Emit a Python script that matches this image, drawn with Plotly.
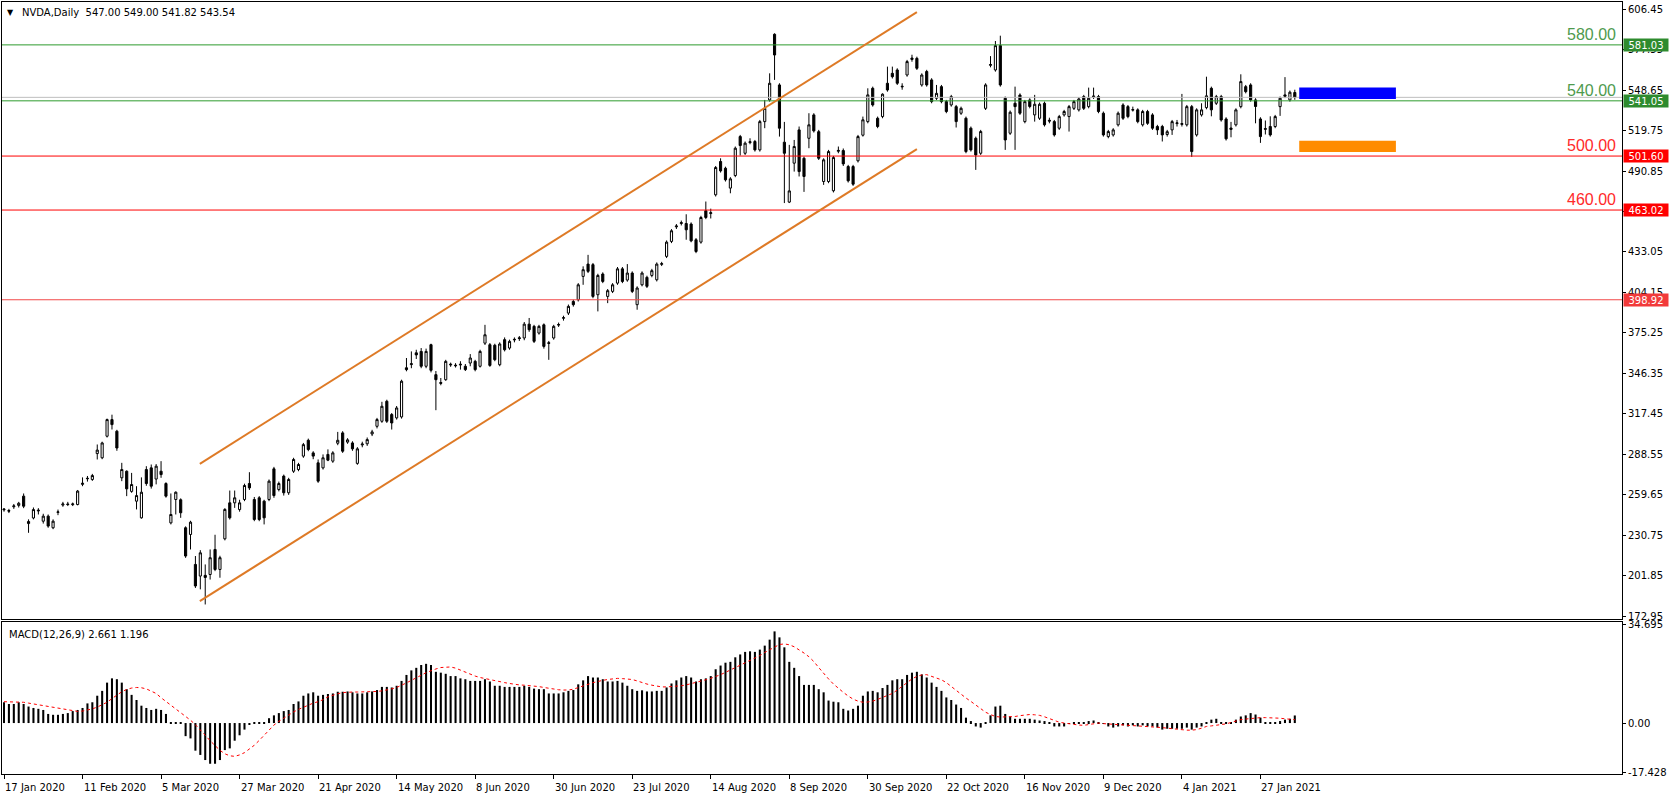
import plotly.graph_objects as go

W, H = 1671, 800

# ---------------- data ----------------
tick_labels = ["17 Jan 2020", "11 Feb 2020", "5 Mar 2020", "27 Mar 2020", "21 Apr 2020",
               "14 May 2020", "8 Jun 2020", "30 Jun 2020", "23 Jul 2020", "14 Aug 2020",
               "8 Sep 2020", "30 Sep 2020", "22 Oct 2020", "16 Nov 2020", "9 Dec 2020",
               "4 Jan 2021", "27 Jan 2021"]
tick_bars = [0, 16, 32, 48, 64, 80, 96, 112, 128, 144, 160, 176, 192, 208, 224, 240, 256]

opens = [
    248.8, 248.3, 251.0, 252.0, 258.6, 239.0, 243.0, 248.0, 240.7, 244.3,
    236.0, 247.0, 252.2, 253.0, 252.5, 252.6, 267.0, 271.0, 270.5, 289.0,
    286.0, 301.4, 313.3, 305.0, 271.7, 276.4, 262.0, 255.0, 243.1, 277.6,
    278.8, 270.8, 276.4, 267.6, 239.5, 256.2, 256.0, 236.0, 231.2, 209.8,
    201.5, 202.0, 202.6, 220.5, 206.2, 228.1, 253.8, 253.8, 249.0, 256.2,
    267.6, 256.2, 257.4, 255.0, 256.2, 278.1, 263.3, 272.9, 261.0, 276.4,
    277.6, 287.2, 298.5, 289.5, 282.4, 278.8, 288.4, 283.6, 296.4, 303.8,
    297.2, 296.6, 282.0, 295.2, 296.0, 303.0, 308.5, 312.1, 326.4, 316.9,
    314.5, 315.2, 350.3, 352.6, 361.0, 362.0, 351.4, 366.8, 345.4, 339.8,
    341.8, 352.3, 352.2, 352.3, 351.4, 353.7, 354.9, 351.4, 367.9, 366.8,
    366.4, 352.5, 370.4, 364.4, 370.2, 371.8, 371.6, 381.5, 379.9, 375.1,
    381.0, 368.2, 371.6, 380.8, 385.7, 389.4, 397.7, 398.9, 415.6, 424.4,
    424.0, 402.5, 417.3, 401.3, 404.9, 410.8, 421.0, 413.0, 418.0, 395.4,
    409.6, 414.9, 416.3, 413.2, 424.2, 429.9, 440.6, 451.0, 453.4, 453.4,
    453.0, 441.8, 440.1, 462.5, 460.5, 473.9, 497.7, 492.9, 478.7, 487.7,
    515.5, 503.6, 511.2, 512.0, 506.0, 526.2, 541.7, 588.6, 552.4, 511.5,
    468.7, 496.5, 520.3, 500.0, 514.3, 531.0, 519.0, 483.4, 483.4, 476.8,
    505.0, 505.5, 494.1, 494.1, 498.2, 516.5, 526.2, 550.0, 528.6, 529.8,
    553.6, 560.7, 563.1, 551.0, 559.5, 570.6, 571.4, 552.4, 562.0, 556.0,
    542.9, 551.2, 540.5, 538.1, 536.9, 532.2, 528.6, 521.5, 514.3, 503.6,
    535.7, 566.4, 563.1, 580.5, 542.9, 517.9, 539.3, 545.2, 526.2, 541.7,
    531.0, 528.6, 539.3, 527.2, 526.2, 521.5, 531.0, 529.8, 535.7, 534.6,
    544.1, 536.9, 543.8, 544.1, 532.2, 515.5, 516.7, 523.9, 538.1, 536.9,
    534.4, 534.6, 523.9, 533.4, 531.0, 522.7, 522.7, 517.0, 520.3, 524.8,
    524.2, 523.9, 536.9, 516.7, 531.0, 536.2, 550.0, 539.3, 544.1, 528.1,
    520.6, 523.9, 536.9, 551.2, 552.4, 541.7, 528.1, 521.2, 522.7, 522.7,
    536.9, 545.3, 541.7, 547.00]

highs = [
    250.0, 249.5, 253.0, 254.5, 260.5, 242.0, 250.5, 250.0, 246.0, 245.5,
    242.0, 249.0, 254.5, 254.5, 254.0, 263.0, 272.0, 273.0, 274.5, 295.5,
    297.5, 314.0, 316.8, 306.0, 282.4, 277.0, 275.2, 265.7, 272.0, 280.0,
    281.2, 281.5, 283.6, 268.5, 260.5, 262.0, 257.0, 237.0, 241.0, 215.8,
    220.0, 209.8, 220.5, 231.0, 216.0, 250.0, 262.6, 262.6, 256.0, 267.5,
    275.7, 258.0, 258.6, 256.0, 270.5, 279.5, 269.0, 274.0, 271.7, 286.0,
    282.4, 296.6, 299.7, 290.7, 284.8, 288.4, 292.0, 290.7, 304.5, 305.0,
    300.0, 297.8, 293.6, 297.5, 300.5, 306.0, 314.5, 326.0, 327.5, 318.0,
    323.0, 341.8, 357.3, 362.0, 363.2, 364.4, 364.0, 367.5, 348.0, 343.0,
    356.0, 354.0, 353.6, 355.0, 353.0, 360.1, 356.0, 363.2, 381.0, 368.0,
    367.5, 368.5, 372.0, 370.4, 372.0, 373.0, 383.0, 385.9, 381.0, 381.0,
    382.0, 369.5, 381.0, 382.6, 387.5, 395.5, 398.9, 410.8, 422.8, 431.0,
    425.2, 417.5, 418.5, 406.6, 410.8, 422.3, 422.3, 424.4, 419.2, 408.5,
    419.2, 416.1, 421.0, 425.6, 426.0, 441.3, 449.4, 453.0, 455.5, 460.0,
    454.2, 443.0, 458.9, 469.1, 464.0, 494.5, 500.0, 494.0, 486.5, 508.4,
    516.7, 512.0, 514.3, 513.1, 527.4, 541.7, 560.7, 589.3, 553.6, 526.0,
    509.6, 513.1, 522.7, 501.2, 532.2, 532.2, 520.3, 500.0, 506.0, 501.7,
    508.4, 507.0, 495.3, 495.3, 516.7, 529.8, 550.0, 551.2, 529.8, 546.4,
    565.5, 565.5, 564.3, 553.6, 570.3, 574.0, 572.6, 560.7, 563.2, 557.2,
    552.4, 552.4, 541.7, 545.3, 538.1, 536.9, 529.8, 522.7, 515.5, 520.3,
    553.6, 573.0, 583.8, 587.6, 544.1, 534.1, 551.2, 546.4, 541.7, 542.9,
    545.3, 539.8, 540.5, 529.0, 527.4, 531.0, 534.6, 538.1, 541.7, 543.6,
    545.3, 550.5, 550.5, 545.3, 533.4, 520.3, 521.5, 533.4, 539.3, 538.1,
    536.9, 535.7, 534.6, 534.6, 532.2, 523.9, 523.9, 520.3, 527.4, 527.4,
    546.0, 538.1, 538.1, 535.7, 539.3, 558.3, 551.2, 545.3, 545.3, 529.3,
    526.0, 535.7, 560.0, 552.4, 553.6, 542.9, 529.3, 527.0, 530.0, 531.0,
    544.1, 558.0, 548.4, 549.00]

lows = [
    247.5, 246.5, 249.5, 250.5, 250.0, 232.4, 242.0, 245.5, 239.0, 236.0,
    235.0, 245.0, 251.0, 251.5, 251.5, 252.0, 265.7, 269.0, 269.5, 284.8,
    285.0, 300.5, 306.2, 291.0, 269.3, 258.6, 261.0, 249.1, 242.5, 266.0,
    264.0, 267.0, 271.7, 257.5, 238.4, 245.5, 243.1, 214.5, 220.5, 193.0,
    192.0, 181.2, 199.0, 205.0, 200.3, 227.0, 241.9, 250.2, 247.5, 255.0,
    263.0, 240.7, 240.7, 238.4, 255.0, 257.4, 262.0, 259.0, 259.5, 275.2,
    276.4, 286.0, 290.7, 285.0, 268.1, 277.6, 283.6, 282.4, 295.0, 289.5,
    296.0, 291.0, 281.0, 293.5, 294.5, 301.5, 307.0, 311.0, 310.9, 306.2,
    313.3, 314.0, 347.8, 350.0, 356.6, 350.0, 350.0, 347.0, 320.0, 337.8,
    341.0, 351.0, 350.5, 349.0, 348.0, 351.4, 347.8, 350.5, 366.6, 351.0,
    355.0, 351.4, 362.0, 363.2, 368.5, 369.5, 370.0, 376.0, 368.0, 374.0,
    364.0, 356.0, 370.4, 379.5, 384.0, 388.0, 394.0, 397.7, 409.6, 418.0,
    400.0, 390.6, 410.8, 396.5, 403.7, 409.6, 410.8, 411.8, 403.7, 391.8,
    408.5, 407.3, 415.0, 412.0, 423.0, 428.7, 439.4, 449.5, 452.0, 441.8,
    440.0, 432.2, 439.0, 456.5, 457.0, 472.7, 489.8, 483.4, 475.0, 486.5,
    502.0, 502.4, 510.0, 504.8, 504.8, 521.5, 540.5, 556.0, 515.5, 468.0,
    468.0, 490.5, 487.0, 476.0, 507.2, 518.4, 498.8, 481.0, 482.2, 475.6,
    503.6, 494.5, 482.7, 480.3, 497.0, 515.5, 525.0, 536.9, 521.5, 528.6,
    547.6, 557.0, 552.4, 549.0, 558.3, 569.0, 563.1, 551.2, 551.2, 539.3,
    541.7, 539.3, 532.2, 536.9, 522.0, 531.0, 503.6, 504.8, 491.7, 502.4,
    534.5, 565.0, 561.9, 551.2, 506.0, 516.7, 506.0, 531.0, 525.0, 535.7,
    526.2, 527.4, 522.7, 525.0, 515.5, 520.3, 529.8, 519.1, 534.5, 533.4,
    534.5, 535.7, 542.4, 532.2, 515.5, 514.3, 515.5, 522.7, 527.4, 528.6,
    533.4, 525.0, 522.7, 523.9, 520.3, 516.7, 512.0, 515.5, 516.7, 522.7,
    522.7, 522.7, 501.0, 515.5, 529.8, 535.0, 530.0, 538.1, 526.2, 512.7,
    515.0, 522.7, 535.7, 546.4, 540.5, 525.0, 511.0, 517.0, 515.5, 521.5,
    530.3, 543.0, 540.5, 541.82]

closes = [
    249.3, 247.9, 251.6, 253.5, 251.4, 240.5, 249.0, 248.5, 244.3, 237.2,
    240.7, 247.3, 253.0, 252.6, 253.0, 262.2, 267.8, 271.3, 273.3, 291.5,
    296.6, 313.3, 309.7, 293.0, 277.6, 263.8, 266.9, 259.0, 261.4, 267.6,
    265.7, 280.0, 274.0, 258.6, 245.5, 261.4, 246.7, 215.8, 240.0, 194.4,
    218.1, 200.5, 214.6, 206.2, 214.6, 249.1, 243.1, 257.4, 253.8, 266.2,
    264.5, 241.9, 241.9, 243.1, 269.3, 259.0, 267.6, 261.0, 270.5, 284.8,
    281.2, 295.4, 291.9, 287.2, 269.3, 286.0, 284.3, 289.5, 298.5, 290.7,
    298.8, 292.4, 292.4, 295.8, 299.0, 304.5, 313.3, 322.8, 312.1, 310.9,
    321.6, 340.7, 349.0, 353.2, 359.5, 351.4, 362.0, 348.5, 341.8, 339.2,
    354.9, 352.8, 351.8, 352.8, 349.0, 357.3, 349.0, 362.0, 373.9, 352.0,
    356.1, 367.3, 363.2, 369.2, 370.6, 371.2, 381.5, 377.5, 369.2, 379.9,
    365.6, 367.8, 379.9, 381.2, 386.1, 394.2, 395.4, 409.6, 420.4, 419.2,
    401.3, 416.3, 412.0, 405.4, 409.6, 421.0, 412.0, 418.0, 404.9, 407.3,
    418.0, 408.5, 419.7, 424.4, 424.7, 440.1, 448.2, 451.6, 454.0, 448.9,
    441.0, 433.4, 457.7, 457.7, 461.1, 493.4, 491.0, 484.6, 485.3, 507.2,
    509.1, 510.8, 511.8, 506.0, 526.2, 535.7, 553.6, 573.8, 521.5, 503.6,
    476.7, 508.4, 490.5, 487.0, 523.9, 519.6, 500.0, 498.9, 504.8, 500.5,
    505.6, 496.0, 483.9, 481.5, 515.5, 527.5, 545.3, 538.1, 522.7, 545.8,
    548.8, 558.3, 553.6, 551.4, 569.1, 571.6, 564.3, 559.5, 552.4, 540.5,
    546.4, 540.5, 533.4, 544.1, 526.2, 535.7, 504.8, 506.0, 502.4, 519.1,
    552.4, 567.0, 580.5, 552.4, 513.1, 532.9, 536.9, 532.2, 540.5, 537.0,
    538.6, 538.6, 523.9, 526.6, 516.7, 529.8, 533.4, 536.9, 540.5, 542.4,
    535.7, 542.9, 544.4, 533.4, 516.7, 519.1, 520.3, 532.2, 528.6, 529.8,
    534.8, 526.2, 533.4, 525.0, 521.5, 520.3, 516.7, 519.0, 526.2, 525.3,
    524.8, 536.9, 504.8, 534.6, 534.6, 544.6, 534.6, 544.1, 527.4, 513.9,
    521.6, 534.6, 554.8, 547.6, 541.7, 537.0, 515.5, 520.8, 516.7, 529.8,
    542.9, 544.3, 547.2, 543.54]

macd_main = [
    7.3, 6.7, 6.7, 7.3, 6.7, 5.8, 5.3, 5.0, 4.6, 3.2,
    2.9, 2.9, 3.2, 3.5, 4.2, 4.6, 5.3, 6.9, 7.3, 9.6,
    11.3, 14.2, 15.7, 15.4, 14.2, 11.9, 9.9, 8.1, 6.1, 5.3,
    4.6, 5.0, 4.6, 3.2, 0.3, 0.3, 0.1, -4.6, -5.4, -9.7,
    -11.2, -13.0, -14.3, -14.3, -13.0, -9.5, -8.9, -6.2, -4.3, -2.3,
    -0.5, 0.2, 0.2, 0.2, 1.7, 2.7, 3.5, 4.2, 4.6, 6.7,
    7.6, 9.6, 10.4, 10.8, 9.6, 9.9, 10.2, 10.4, 11.0, 11.0,
    11.1, 10.8, 10.4, 10.4, 10.8, 11.1, 11.6, 12.7, 12.7, 12.5,
    13.1, 14.8, 16.9, 18.5, 19.4, 20.4, 20.8, 20.4, 18.0, 17.7,
    17.3, 16.5, 16.5, 15.7, 15.4, 14.8, 14.8, 14.8, 15.4, 14.6,
    13.1, 13.1, 12.7, 12.7, 12.7, 12.7, 13.1, 12.7, 12.1, 11.9,
    11.9, 10.4, 10.4, 10.4, 10.8, 11.3, 11.6, 13.6, 15.0, 16.5,
    16.0, 16.0, 15.4, 14.6, 14.6, 14.8, 14.2, 13.1, 11.9, 11.3,
    11.5, 11.1, 11.1, 11.3, 11.3, 12.5, 13.9, 15.0, 16.0, 16.5,
    16.0, 14.6, 15.4, 15.7, 16.5, 18.9, 20.2, 21.2, 21.5, 23.1,
    24.1, 25.0, 25.2, 25.0, 25.8, 27.2, 29.3, 32.2, 30.1, 26.6,
    21.5, 19.4, 16.5, 13.4, 13.4, 13.4, 11.9, 10.8, 7.9, 7.5,
    7.3, 5.0, 4.4, 5.0, 6.1, 9.6, 11.1, 11.3, 10.8, 12.3,
    13.4, 15.0, 15.4, 15.4, 16.9, 17.7, 18.0, 17.1, 16.0, 14.2,
    12.7, 11.3, 9.0, 8.1, 6.5, 5.3, 1.9, 0.7, -1.2, -1.6,
    0.2, 2.7, 5.8, 6.1, 3.2, 2.3, 1.5, 1.5, 1.5, 1.5,
    1.2, 0.9, 0.7, 0.3, -1.2, -1.2, -1.2, -0.2, 0.1, 0.3,
    0.1, 0.7, 0.9, 0.1, -0.2, -1.2, -1.6, -1.2, -0.8, -1.2,
    -0.8, -1.2, -0.8, -1.2, -1.2, -1.6, -2.3, -2.0, -2.0, -2.0,
    -2.0, -1.6, -2.3, -1.6, -1.2, 0.1, 1.2, 1.5, 0.3, 0.1,
    0.3, 1.2, 2.3, 2.7, 3.5, 3.0, 1.9, 0.3, 0.3, 0.3,
    0.7, 1.2, 1.5, 2.661]

macd_signal = [
    7.5, 7.5, 7.5, 7.4, 7.3, 7.0, 6.7, 6.4, 6.1, 5.8,
    5.5, 5.1, 4.8, 4.5, 4.2, 4.1, 4.2, 4.5, 5.0, 5.6,
    6.4, 7.3, 8.6, 9.9, 11.0, 11.8, 12.3, 12.5, 12.4, 12.0,
    11.3, 10.4, 8.9, 7.6, 6.2, 4.8, 3.4, 2.2, 1.0, -0.6,
    -2.3, -4.3, -6.2, -8.0, -9.6, -10.8, -11.5, -11.7, -11.2, -10.4,
    -9.2, -7.8, -6.1, -4.2, -2.3, -0.7, 0.6, 1.8, 2.9, 3.9,
    4.8, 5.6, 6.4, 7.0, 7.5, 8.2, 9.2, 9.8, 10.3, 10.7,
    10.9, 10.9, 10.9, 10.9, 11.0, 11.0, 11.1, 11.3, 11.6, 12.0,
    12.5, 13.2, 14.1, 15.0, 15.8, 16.8, 17.7, 18.4, 19.0, 19.5,
    19.7, 19.7, 19.3, 18.6, 17.8, 17.2, 16.5, 16.0, 15.6, 15.2,
    14.8, 14.5, 14.2, 13.9, 13.6, 13.4, 13.3, 13.2, 13.1, 12.8,
    12.5, 12.2, 11.9, 11.7, 11.6, 11.6, 11.9, 12.4, 13.0, 13.6,
    14.2, 14.7, 15.0, 15.3, 15.6, 15.7, 15.6, 15.4, 15.3, 14.8,
    14.2, 13.7, 13.3, 12.9, 12.7, 12.7, 12.8, 12.9, 13.1, 13.4,
    13.8, 14.2, 14.7, 15.2, 15.7, 16.3, 17.0, 17.8, 18.6, 19.6,
    20.4, 21.2, 22.0, 22.9, 23.7, 24.8, 25.8, 26.8, 27.6, 27.8,
    27.5, 26.8, 25.8, 24.6, 23.3, 21.6, 19.5, 17.4, 15.5, 13.7,
    12.1, 10.8, 9.5, 8.4, 7.7, 7.3, 7.4, 7.7, 8.3, 9.0,
    9.7, 10.4, 11.6, 13.0, 14.4, 15.5, 16.4, 16.9, 17.0, 16.4,
    15.8, 15.2, 14.2, 12.8, 11.4, 10.0, 8.8, 7.6, 6.3, 5.0,
    3.8, 3.0, 2.3, 2.1, 2.1, 2.1, 2.3, 2.6, 2.9, 3.0,
    2.9, 2.7, 2.2, 1.5, 0.8, 0.3, 0.0, -0.3, -0.5, -0.7,
    -0.8, -0.6, -0.3, 0.0, -0.2, -0.3, -0.5, -0.6, -0.7, -0.8,
    -0.8, -0.9, -1.0, -1.2, -1.3, -1.5, -1.6, -1.8, -2.0, -2.3,
    -2.5, -2.5, -2.5, -2.3, -1.8, -1.2, -1.0, -0.8, -0.6, -0.3,
    0.2, 0.7, 1.2, 1.4, 1.6, 1.8, 1.9, 1.9, 1.9, 1.9,
    1.7, 1.5, 1.3, 1.196]

price_ticks = [606.45, 577.55, 548.65, 519.75, 490.85, 461.95, 433.05, 404.15,
               375.25, 346.35, 317.45, 288.55, 259.65, 230.75, 201.85, 172.95]
macd_ticks = [34.695, 0.0, -17.428]
macd_tick_text = ["34.695", "0.00", "-17.428"]

# horizontal levels: price, line colour, box colour
level_prices = [581.03, 541.05, 501.60, 463.02, 398.92]
level_colors = ["#2E9B2E", "#2E9B2E", "#FF0000", "#FF0000", "#F24848"]
level_box_colors = ["#2E8B2E", "#2E8B2E", "#FF0000", "#FF0000", "#F23A3A"]
# text labels drawn above the levels
label_texts = ["580.00", "540.00", "500.00", "460.00"]
label_prices = [581.03, 541.05, 501.60, 463.02]
label_colors = ["#4E9A4E", "#4E9A4E", "#FF2A2A", "#FF2A2A"]

bid_price = 543.54

# channel lines: (bar, price) end points
channel_upper = [(39.9, 281.7), (186.0, 604.5)]
channel_lower = [(39.9, 183.6), (186.0, 506.5)]

# rectangles at right (bar range, price range)
blue_rect = (263.9, 283.6, 542.4, 550.6)
orange_rect = (263.9, 283.6, 504.5, 512.6)

assert len(opens) == len(highs) == len(lows) == len(closes) == len(macd_main) == len(macd_signal) == 264

bars = list(range(len(closes)))

# ---------------- figure ----------------
XL, XR = 2, 1622
MAIN_TOP, MAIN_BOT = 2, 619
MACD_TOP, MACD_BOT = 622, 774
x_dom = [XL / W, XR / W]
y_main_dom = [1 - MAIN_BOT / H, 1 - MAIN_TOP / H]
y_macd_dom = [1 - MACD_BOT / H, 1 - MACD_TOP / H]
bar_px = 4.908
x_range = [(XL - 4) / bar_px, (XR - 4) / bar_px]

fig = go.Figure()

fig.add_trace(go.Candlestick(
    x=bars, open=opens, high=highs, low=lows, close=closes,
    increasing=dict(line=dict(color="black", width=1), fillcolor="white"),
    decreasing=dict(line=dict(color="black", width=1), fillcolor="black"),
    whiskerwidth=0, xaxis="x", yaxis="y", showlegend=False, hoverinfo="skip"))

fig.add_trace(go.Bar(
    x=bars, y=macd_main, width=0.42, marker=dict(color="black", line=dict(width=0)),
    xaxis="x2", yaxis="y2", showlegend=False, hoverinfo="skip"))

fig.add_trace(go.Scatter(
    x=bars, y=macd_signal, mode="lines",
    line=dict(color="#FF0000", width=1, dash="dot"),
    xaxis="x2", yaxis="y2", showlegend=False, hoverinfo="skip"))

font_axis = dict(family="DejaVu Sans", size=10, color="black")

fig.update_layout(
    width=W, height=H, margin=dict(l=0, r=0, t=0, b=0),
    paper_bgcolor="white", plot_bgcolor="white",
    boxgap=0.38,
    xaxis=dict(domain=x_dom, range=x_range, anchor="y", showticklabels=False,
               ticks="", showgrid=False, zeroline=False, showline=True, mirror=True,
               linecolor="black", linewidth=1, rangeslider=dict(visible=False),
               fixedrange=True),
    xaxis2=dict(domain=x_dom, range=x_range, anchor="y2", tickvals=tick_bars,
                ticktext=[""] * len(tick_bars), ticks="outside", ticklen=4,
                tickcolor="black", showgrid=False, zeroline=False, showline=True,
                mirror=True, linecolor="black", linewidth=1),
    yaxis=dict(domain=y_main_dom, range=[170.81, 611.67], anchor="x", side="right",
               tickvals=price_ticks, ticktext=[f"{v:.2f}" for v in price_ticks],
               ticks="outside", ticklen=3, tickcolor="black", tickfont=font_axis,
               showgrid=False, zeroline=False, showline=True, mirror=True,
               linecolor="black", linewidth=1, automargin=False),
    yaxis2=dict(domain=y_macd_dom, range=[-17.9, 35.5], anchor="x2", side="right",
                tickvals=macd_ticks, ticktext=macd_tick_text, ticks="outside",
                ticklen=3, tickcolor="black", tickfont=font_axis, showgrid=False,
                zeroline=False, showline=True, mirror=True, linecolor="black",
                linewidth=1, automargin=False),
)

shapes = []
# bid line
shapes.append(dict(type="line", xref="paper", yref="y", x0=x_dom[0], x1=x_dom[1],
                   y0=bid_price, y1=bid_price, line=dict(color="#BEBEBE", width=1)))
for p, c in zip(level_prices, level_colors):
    shapes.append(dict(type="line", xref="paper", yref="y", x0=x_dom[0], x1=x_dom[1],
                       y0=p, y1=p, line=dict(color=c, width=1)))
for ch in (channel_upper, channel_lower):
    shapes.append(dict(type="line", xref="x", yref="y", x0=ch[0][0], y0=ch[0][1],
                       x1=ch[1][0], y1=ch[1][1], line=dict(color="#DE7A26", width=2)))
for rect, col in ((blue_rect, "#0000FF"), (orange_rect, "#FF8C00")):
    shapes.append(dict(type="rect", xref="x", yref="y", x0=rect[0], x1=rect[1],
                       y0=rect[2], y1=rect[3], fillcolor=col, line=dict(width=0),
                       layer="above"))
fig.update_layout(shapes=shapes)

ann = []
# title
ann.append(dict(xref="paper", yref="paper", x=5 / W, y=1 - 12 / H, xanchor="left",
                yanchor="middle", text="▼", showarrow=False,
                font=dict(family="DejaVu Sans", size=8, color="black")))
ann.append(dict(xref="paper", yref="paper", x=20 / W, y=1 - 12 / H, xanchor="left",
                yanchor="middle", text="NVDA,Daily  547.00 549.00 541.82 543.54",
                showarrow=False, font=font_axis))
ann.append(dict(xref="paper", yref="paper", x=7 / W, y=1 - 634 / H, xanchor="left",
                yanchor="middle", text="MACD(12,26,9) 2.661 1.196",
                showarrow=False, font=font_axis))
# level text labels
for t, p, c in zip(label_texts, label_prices, label_colors):
    ann.append(dict(xref="paper", yref="y", x=1618 / W, y=p, xanchor="right",
                    yanchor="bottom", yshift=0, text=t, showarrow=False,
                    font=dict(family="Liberation Sans", size=16, color=c)))
# price boxes on axis
for p, c in zip(level_prices, level_box_colors):
    ann.append(dict(xref="paper", yref="y", x=1623 / W, y=p, xanchor="left",
                    yanchor="middle", text=f"{p:.2f}", showarrow=False,
                    bgcolor=c, borderpad=0, width=44, height=12, align="center",
                    font=dict(family="DejaVu Sans", size=10, color="white")))
# x axis labels (left-aligned at their tick, as in the terminal)
for b, t in zip(tick_bars, tick_labels):
    ann.append(dict(xref="x2", yref="paper", x=b, y=1 - 787 / H, xanchor="left",
                    yanchor="middle", text=t, showarrow=False, xshift=-1,
                    font=font_axis))
fig.update_layout(annotations=ann)

fig.write_html("out.html",
               config={"displayModeBar": False},
               post_script="document.body.style.margin='0';document.body.style.padding='0';document.body.style.overflow='hidden';")
